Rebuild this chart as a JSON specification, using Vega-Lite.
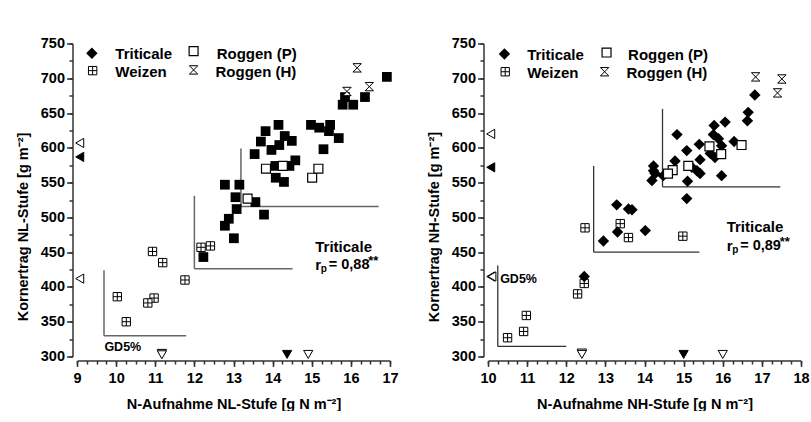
{
  "$schema": "https://vega.github.io/schema/vega-lite/v6.json",
  "padding": {"left": 15, "top": 35.5, "right": 0, "bottom": 0},
  "spacing": 27,
  "config": {
    "view": {"stroke": null},
    "font": "Liberation Sans",
    "axis": {"labelFont": "Liberation Sans", "labelFontWeight": "bold", "labelFontSize": 14.5, "labelColor": "black", "titleFont": "Liberation Sans", "titleFontWeight": "bold", "titleFontSize": 14.5, "titleColor": "black", "domainColor": "#333", "tickColor": "#333", "domainWidth": 1.5, "tickWidth": 1.5, "grid": false, "labelFlush": false, "labelOverlap": false}
  },
  "datasets": {
    "nl_tri": [{"x":16.92,"y":702},{"x":16.36,"y":673},{"x":15.85,"y":673},{"x":15.79,"y":662},{"x":16.06,"y":662},{"x":14.15,"y":633},{"x":13.82,"y":624},{"x":14.98,"y":633},{"x":15.19,"y":629},{"x":15.47,"y":633},{"x":15.44,"y":624},{"x":15.69,"y":614},{"x":14.31,"y":617},{"x":14.49,"y":610},{"x":13.70,"y":609},{"x":14.17,"y":604},{"x":13.97,"y":597},{"x":15.30,"y":598},{"x":13.54,"y":591},{"x":14.58,"y":582},{"x":14.07,"y":574},{"x":14.43,"y":574},{"x":14.08,"y":557},{"x":14.29,"y":551},{"x":12.78,"y":547},{"x":13.15,"y":547},{"x":13.05,"y":529},{"x":13.56,"y":522},{"x":13.08,"y":512},{"x":13.78,"y":504},{"x":12.88,"y":498},{"x":12.78,"y":488},{"x":13.01,"y":470},{"x":12.23,"y":443}],
    "nl_rp": [{"x":13.83,"y":570},{"x":14.26,"y":574},{"x":13.36,"y":527},{"x":15.01,"y":557},{"x":15.17,"y":570}],
    "nl_rh": [{"x":16.16,"y":715},{"x":15.90,"y":681},{"x":16.47,"y":688}],
    "nl_wei": [{"x":10.93,"y":451},{"x":11.19,"y":435},{"x":11.76,"y":410},{"x":10.03,"y":386},{"x":10.97,"y":384},{"x":10.81,"y":377},{"x":10.26,"y":350},{"x":12.17,"y":457},{"x":12.41,"y":459}],
    "nl_mittel": [{"gruppe":"Triticale","achse":"y","x":9.07,"y":587},{"gruppe":"Vergleich","achse":"y","x":9.07,"y":607},{"gruppe":"Vergleich","achse":"y","x":9.07,"y":412},{"gruppe":"Vergleich","achse":"x","x":11.17,"y":304.5},{"gruppe":"Vergleich","achse":"x","x":11.17,"y":302.5},{"gruppe":"Triticale","achse":"x","x":14.37,"y":303},{"gruppe":"Vergleich","achse":"x","x":14.91,"y":303}],
    "nl_gd": [{"x":9.69,"y":424,"x2":9.69,"y2":330},{"x":9.69,"y":330,"x2":11.79,"y2":330},{"x":12.0,"y":531,"x2":12.0,"y2":426},{"x":12.0,"y":426,"x2":14.51,"y2":426},{"x":13.19,"y":599,"x2":13.19,"y2":515.5},{"x":13.19,"y":515.5,"x2":16.71,"y2":515.5}],
    "nl_leg": [{"s":"Triticale","x":9.38,"y":736,"tx":9.98,"ty":735.6},{"s":"Weizen","x":9.40,"y":711,"tx":9.98,"ty":709.4},{"s":"Roggen (P)","x":11.98,"y":739,"tx":12.57,"ty":735.6},{"s":"Roggen (H)","x":11.98,"y":712,"tx":12.54,"ty":709.4}],
    "nl_ann": [{"x":15.09,"y":457,"r":431,"t":"Triticale","gd":"GD5%","gx":9.70,"gy":313,"wert":"= 0,88"}],
    "nh_tri": [{"x":16.82,"y":676},{"x":16.65,"y":651},{"x":16.63,"y":639},{"x":16.06,"y":637},{"x":15.78,"y":632},{"x":14.83,"y":619},{"x":15.76,"y":619},{"x":15.89,"y":613},{"x":16.29,"y":609},{"x":15.97,"y":603},{"x":15.40,"y":605},{"x":15.08,"y":596},{"x":15.68,"y":592},{"x":15.80,"y":586},{"x":15.42,"y":583},{"x":14.78,"y":581},{"x":15.21,"y":572},{"x":15.34,"y":567},{"x":15.42,"y":563},{"x":14.23,"y":574},{"x":14.23,"y":567},{"x":14.19,"y":553},{"x":14.48,"y":560},{"x":15.97,"y":560},{"x":15.10,"y":552},{"x":15.08,"y":527},{"x":14.27,"y":563},{"x":13.29,"y":518},{"x":13.59,"y":512},{"x":13.68,"y":511},{"x":14.02,"y":481},{"x":13.31,"y":479},{"x":12.95,"y":466},{"x":12.46,"y":415}],
    "nh_rp": [{"x":15.66,"y":602},{"x":16.48,"y":604},{"x":15.96,"y":591},{"x":15.12,"y":574},{"x":14.72,"y":568},{"x":14.60,"y":563}],
    "nh_rh": [{"x":16.84,"y":702},{"x":17.51,"y":699},{"x":17.40,"y":679}],
    "nh_wei": [{"x":12.48,"y":485},{"x":13.38,"y":491},{"x":13.59,"y":471},{"x":14.98,"y":473},{"x":12.46,"y":405},{"x":12.29,"y":390},{"x":10.98,"y":359},{"x":10.91,"y":336},{"x":10.50,"y":327}],
    "nh_mittel": [{"gruppe":"Triticale","achse":"y","x":10.07,"y":572},{"gruppe":"Vergleich","achse":"y","x":10.07,"y":620},{"gruppe":"Vergleich","achse":"y","x":10.07,"y":415},{"gruppe":"Vergleich","achse":"y","x":10.10,"y":415},{"gruppe":"Vergleich","achse":"x","x":12.40,"y":305},{"gruppe":"Vergleich","achse":"x","x":12.40,"y":303},{"gruppe":"Triticale","achse":"x","x":15.0,"y":303},{"gruppe":"Vergleich","achse":"x","x":16.0,"y":303}],
    "nh_gd": [{"x":10.25,"y":431,"x2":10.25,"y2":314.5},{"x":10.25,"y":314.5,"x2":12.0,"y2":314.5},{"x":12.70,"y":574,"x2":12.70,"y2":450},{"x":12.70,"y":450,"x2":15.40,"y2":450},{"x":14.46,"y":656,"x2":14.46,"y2":544},{"x":14.46,"y":544,"x2":17.47,"y2":544}],
    "nh_leg": [{"s":"Triticale","x":10.42,"y":735,"tx":11.0,"ty":733.5},{"s":"Weizen","x":10.44,"y":709.4,"tx":11.0,"ty":707},{"s":"Roggen (P)","x":13.03,"y":737,"tx":13.58,"ty":733.5},{"s":"Roggen (H)","x":12.98,"y":709.4,"tx":13.54,"ty":707}],
    "nh_ann": [{"x":16.10,"y":486,"r":459.5,"t":"Triticale","gd":"GD5%","gx":10.31,"gy":412,"wert":"= 0,89"}]
  },
  "hconcat": [
    {
      "width": 313, "height": 313,
      "resolve": {"axis": {"x": "independent", "y": "independent"}},
      "layer": [
        {
          "data": {"name": "nl_gd"},
          "mark": {"type": "rule", "color": "#666", "strokeWidth": 1.5},
          "encoding": {
            "x": {"field": "x", "type": "quantitative", "scale": {"domain": [9, 17], "nice": false, "zero": false}, "axis": {"orient": "bottom", "values": [9,10,11,12,13,14,15,16,17], "offset": 4, "tickSize": 6, "labelPadding": 5, "titlePadding": 12, "title": "N-Aufnahme NL-Stufe [g N m⁻²]"}},
            "y": {"field": "y", "type": "quantitative", "scale": {"domain": [300, 750], "nice": false, "zero": false}, "axis": {"orient": "left", "values": [300,350,400,450,500,550,600,650,700,750], "offset": 4.5, "tickSize": 6, "labelPadding": 2, "titlePadding": 10, "titleY": 183, "title": "Kornertrag NL-Stufe [g m⁻²]"}},
            "x2": {"field": "x2"},
            "y2": {"field": "y2"}
          }
        },
        {
          "data": {"values": [{}]},
          "mark": {"type": "point", "opacity": 0},
          "encoding": {
            "x": {"datum": 9, "type": "quantitative", "axis": {"orient": "bottom", "values": [9,9.25,9.5,9.75,10,10.25,10.5,10.75,11,11.25,11.5,11.75,12,12.25,12.5,12.75,13,13.25,13.5,13.75,14,14.25,14.5,14.75,15,15.25,15.5,15.75,16,16.25,16.5,16.75,17], "offset": 4, "tickSize": 3.5, "labels": false, "domain": false, "title": null}},
            "y": {"datum": 300, "type": "quantitative", "axis": {"orient": "left", "values": [300,325,350,375,400,425,450,475,500,525,550,575,600,625,650,675,700,725,750], "offset": 4.5, "tickSize": 3.5, "labels": false, "domain": false, "title": null}}
          }
        },
        {
          "data": {"name": "nl_wei"},
          "mark": {"type": "point", "shape": "M-1,-1H1V1H-1Z M0,-1V1 M-1,0H1", "fill": "white", "filled": true, "stroke": "black", "strokeWidth": 1, "size": 70, "opacity": 1},
          "encoding": {"x": {"field": "x", "type": "quantitative", "axis": null}, "y": {"field": "y", "type": "quantitative", "axis": null}}
        },
        {
          "data": {"name": "nl_tri"},
          "mark": {"type": "point", "shape": "square", "filled": true, "color": "black", "size": 95, "opacity": 1},
          "encoding": {"x": {"field": "x", "type": "quantitative", "axis": null}, "y": {"field": "y", "type": "quantitative", "axis": null}}
        },
        {
          "data": {"name": "nl_rp"},
          "mark": {"type": "point", "shape": "square", "fill": "white", "filled": true, "stroke": "black", "strokeWidth": 1.2, "size": 80, "opacity": 1},
          "encoding": {"x": {"field": "x", "type": "quantitative", "axis": null}, "y": {"field": "y", "type": "quantitative", "axis": null}}
        },
        {
          "data": {"name": "nl_rh"},
          "mark": {"type": "point", "shape": "M-1,-1H1L-1,1H1Z", "fill": "white", "filled": true, "stroke": "black", "strokeWidth": 1, "size": 70, "opacity": 1},
          "encoding": {"x": {"field": "x", "type": "quantitative", "axis": null}, "y": {"field": "y", "type": "quantitative", "axis": null}}
        },
        {
          "data": {"name": "nl_mittel"},
          "mark": {"type": "point", "filled": true, "stroke": "black", "strokeWidth": 1, "size": 85, "opacity": 1},
          "encoding": {
            "x": {"field": "x", "type": "quantitative", "axis": null},
            "y": {"field": "y", "type": "quantitative", "axis": null},
            "shape": {"field": "achse", "type": "nominal", "scale": {"domain": ["x", "y"], "range": ["triangle-down", "triangle-left"]}, "legend": null},
            "fill": {"field": "gruppe", "type": "nominal", "scale": {"domain": ["Triticale", "Vergleich"], "range": ["black", "white"]}, "legend": null}
          }
        },
        {
          "data": {"name": "nl_leg"},
          "transform": [{"filter": "datum.s === 'Triticale'"}],
          "mark": {"type": "point", "shape": "diamond", "filled": true, "color": "black", "size": 130, "opacity": 1},
          "encoding": {"x": {"field": "x", "type": "quantitative", "axis": null}, "y": {"field": "y", "type": "quantitative", "axis": null}}
        },
        {
          "data": {"name": "nl_leg"},
          "transform": [{"filter": "datum.s === 'Weizen'"}],
          "mark": {"type": "point", "shape": "M-1,-1H1V1H-1Z M0,-1V1 M-1,0H1", "fill": "white", "filled": true, "stroke": "black", "strokeWidth": 1, "size": 70, "opacity": 1},
          "encoding": {"x": {"field": "x", "type": "quantitative", "axis": null}, "y": {"field": "y", "type": "quantitative", "axis": null}}
        },
        {
          "data": {"name": "nl_leg"},
          "transform": [{"filter": "datum.s === 'Roggen (P)'"}],
          "mark": {"type": "point", "shape": "square", "fill": "white", "filled": true, "stroke": "black", "strokeWidth": 1.2, "size": 80, "opacity": 1},
          "encoding": {"x": {"field": "x", "type": "quantitative", "axis": null}, "y": {"field": "y", "type": "quantitative", "axis": null}}
        },
        {
          "data": {"name": "nl_leg"},
          "transform": [{"filter": "datum.s === 'Roggen (H)'"}],
          "mark": {"type": "point", "shape": "M-1,-1H1L-1,1H1Z", "fill": "white", "filled": true, "stroke": "black", "strokeWidth": 1, "size": 70, "opacity": 1},
          "encoding": {"x": {"field": "x", "type": "quantitative", "axis": null}, "y": {"field": "y", "type": "quantitative", "axis": null}}
        },
        {
          "data": {"name": "nl_leg"},
          "mark": {"type": "text", "align": "left", "baseline": "middle", "font": "Liberation Sans", "fontWeight": "bold", "fontSize": 15, "color": "black"},
          "encoding": {"x": {"field": "tx", "type": "quantitative", "axis": null}, "y": {"field": "ty", "type": "quantitative", "axis": null}, "text": {"field": "s"}}
        },
        {
          "data": {"name": "nl_ann"},
          "mark": {"type": "text", "align": "left", "baseline": "middle", "font": "Liberation Sans", "fontWeight": "bold", "fontSize": 15, "color": "black"},
          "encoding": {"x": {"field": "x", "type": "quantitative", "axis": null}, "y": {"field": "y", "type": "quantitative", "axis": null}, "text": {"field": "t"}}
        },
        {
          "data": {"name": "nl_ann"},
          "mark": {"type": "text", "align": "left", "baseline": "middle", "font": "Liberation Sans", "fontWeight": "bold", "fontSize": 15, "color": "black", "text": "r"},
          "encoding": {"x": {"field": "x", "type": "quantitative", "axis": null}, "y": {"field": "r", "type": "quantitative", "axis": null}}
        },
        {
          "data": {"name": "nl_ann"},
          "mark": {"type": "text", "align": "left", "baseline": "middle", "font": "Liberation Sans", "fontWeight": "bold", "fontSize": 10, "color": "black", "text": "p", "dx": 5.5, "dy": 4},
          "encoding": {"x": {"field": "x", "type": "quantitative", "axis": null}, "y": {"field": "r", "type": "quantitative", "axis": null}}
        },
        {
          "data": {"name": "nl_ann"},
          "mark": {"type": "text", "align": "left", "baseline": "middle", "font": "Liberation Sans", "fontWeight": "bold", "fontSize": 14.5, "color": "black", "dx": 13.5},
          "encoding": {"x": {"field": "x", "type": "quantitative", "axis": null}, "y": {"field": "r", "type": "quantitative", "axis": null}, "text": {"field": "wert"}}
        },
        {
          "data": {"name": "nl_ann"},
          "mark": {"type": "text", "align": "left", "baseline": "middle", "font": "Liberation Sans", "fontWeight": "bold", "fontSize": 13, "color": "black", "text": "**", "dx": 53, "dy": -4},
          "encoding": {"x": {"field": "x", "type": "quantitative", "axis": null}, "y": {"field": "r", "type": "quantitative", "axis": null}}
        },
        {
          "data": {"name": "nl_ann"},
          "mark": {"type": "text", "align": "left", "baseline": "middle", "font": "Liberation Sans", "fontWeight": "bold", "fontSize": 12.5, "color": "black"},
          "encoding": {"x": {"field": "gx", "type": "quantitative", "axis": null}, "y": {"field": "gy", "type": "quantitative", "axis": null}, "text": {"field": "gd"}}
        }
      ]
    },
    {
      "width": 313, "height": 313,
      "resolve": {"axis": {"x": "independent", "y": "independent"}},
      "layer": [
        {
          "data": {"name": "nh_gd"},
          "mark": {"type": "rule", "color": "#333", "strokeWidth": 1.3},
          "encoding": {
            "x": {"field": "x", "type": "quantitative", "scale": {"domain": [10, 18], "nice": false, "zero": false}, "axis": {"orient": "bottom", "values": [10,11,12,13,14,15,16,17,18], "offset": 4, "tickSize": 6, "labelPadding": 5, "titlePadding": 12, "title": "N-Aufnahme NH-Stufe [g N m⁻²]"}},
            "y": {"field": "y", "type": "quantitative", "scale": {"domain": [300, 750], "nice": false, "zero": false}, "axis": {"orient": "left", "values": [300,350,400,450,500,550,600,650,700,750], "offset": 4.5, "tickSize": 6, "labelPadding": 2, "titlePadding": 10, "titleY": 183, "title": "Kornertrag NH-Stufe [g m⁻²]"}},
            "x2": {"field": "x2"},
            "y2": {"field": "y2"}
          }
        },
        {
          "data": {"values": [{}]},
          "mark": {"type": "point", "opacity": 0},
          "encoding": {
            "x": {"datum": 10, "type": "quantitative", "axis": {"orient": "bottom", "values": [10,10.25,10.5,10.75,11,11.25,11.5,11.75,12,12.25,12.5,12.75,13,13.25,13.5,13.75,14,14.25,14.5,14.75,15,15.25,15.5,15.75,16,16.25,16.5,16.75,17,17.25,17.5,17.75,18], "offset": 4, "tickSize": 3.5, "labels": false, "domain": false, "title": null}},
            "y": {"datum": 300, "type": "quantitative", "axis": {"orient": "left", "values": [300,325,350,375,400,425,450,475,500,525,550,575,600,625,650,675,700,725,750], "offset": 4.5, "tickSize": 3.5, "labels": false, "domain": false, "title": null}}
          }
        },
        {
          "data": {"name": "nh_wei"},
          "mark": {"type": "point", "shape": "M-1,-1H1V1H-1Z M0,-1V1 M-1,0H1", "fill": "white", "filled": true, "stroke": "black", "strokeWidth": 1, "size": 70, "opacity": 1},
          "encoding": {"x": {"field": "x", "type": "quantitative", "axis": null}, "y": {"field": "y", "type": "quantitative", "axis": null}}
        },
        {
          "data": {"name": "nh_tri"},
          "mark": {"type": "point", "shape": "diamond", "filled": true, "color": "black", "size": 130, "opacity": 1},
          "encoding": {"x": {"field": "x", "type": "quantitative", "axis": null}, "y": {"field": "y", "type": "quantitative", "axis": null}}
        },
        {
          "data": {"name": "nh_rp"},
          "mark": {"type": "point", "shape": "square", "fill": "white", "filled": true, "stroke": "black", "strokeWidth": 1.2, "size": 80, "opacity": 1},
          "encoding": {"x": {"field": "x", "type": "quantitative", "axis": null}, "y": {"field": "y", "type": "quantitative", "axis": null}}
        },
        {
          "data": {"name": "nh_rh"},
          "mark": {"type": "point", "shape": "M-1,-1H1L-1,1H1Z", "fill": "white", "filled": true, "stroke": "black", "strokeWidth": 1, "size": 70, "opacity": 1},
          "encoding": {"x": {"field": "x", "type": "quantitative", "axis": null}, "y": {"field": "y", "type": "quantitative", "axis": null}}
        },
        {
          "data": {"name": "nh_mittel"},
          "mark": {"type": "point", "filled": true, "stroke": "black", "strokeWidth": 1, "size": 85, "opacity": 1},
          "encoding": {
            "x": {"field": "x", "type": "quantitative", "axis": null},
            "y": {"field": "y", "type": "quantitative", "axis": null},
            "shape": {"field": "achse", "type": "nominal", "scale": {"domain": ["x", "y"], "range": ["triangle-down", "triangle-left"]}, "legend": null},
            "fill": {"field": "gruppe", "type": "nominal", "scale": {"domain": ["Triticale", "Vergleich"], "range": ["black", "white"]}, "legend": null}
          }
        },
        {
          "data": {"name": "nh_leg"},
          "transform": [{"filter": "datum.s === 'Triticale'"}],
          "mark": {"type": "point", "shape": "diamond", "filled": true, "color": "black", "size": 130, "opacity": 1},
          "encoding": {"x": {"field": "x", "type": "quantitative", "axis": null}, "y": {"field": "y", "type": "quantitative", "axis": null}}
        },
        {
          "data": {"name": "nh_leg"},
          "transform": [{"filter": "datum.s === 'Weizen'"}],
          "mark": {"type": "point", "shape": "M-1,-1H1V1H-1Z M0,-1V1 M-1,0H1", "fill": "white", "filled": true, "stroke": "black", "strokeWidth": 1, "size": 70, "opacity": 1},
          "encoding": {"x": {"field": "x", "type": "quantitative", "axis": null}, "y": {"field": "y", "type": "quantitative", "axis": null}}
        },
        {
          "data": {"name": "nh_leg"},
          "transform": [{"filter": "datum.s === 'Roggen (P)'"}],
          "mark": {"type": "point", "shape": "square", "fill": "white", "filled": true, "stroke": "black", "strokeWidth": 1.2, "size": 80, "opacity": 1},
          "encoding": {"x": {"field": "x", "type": "quantitative", "axis": null}, "y": {"field": "y", "type": "quantitative", "axis": null}}
        },
        {
          "data": {"name": "nh_leg"},
          "transform": [{"filter": "datum.s === 'Roggen (H)'"}],
          "mark": {"type": "point", "shape": "M-1,-1H1L-1,1H1Z", "fill": "white", "filled": true, "stroke": "black", "strokeWidth": 1, "size": 70, "opacity": 1},
          "encoding": {"x": {"field": "x", "type": "quantitative", "axis": null}, "y": {"field": "y", "type": "quantitative", "axis": null}}
        },
        {
          "data": {"name": "nh_leg"},
          "mark": {"type": "text", "align": "left", "baseline": "middle", "font": "Liberation Sans", "fontWeight": "bold", "fontSize": 15, "color": "black"},
          "encoding": {"x": {"field": "tx", "type": "quantitative", "axis": null}, "y": {"field": "ty", "type": "quantitative", "axis": null}, "text": {"field": "s"}}
        },
        {
          "data": {"name": "nh_ann"},
          "mark": {"type": "text", "align": "left", "baseline": "middle", "font": "Liberation Sans", "fontWeight": "bold", "fontSize": 15, "color": "black"},
          "encoding": {"x": {"field": "x", "type": "quantitative", "axis": null}, "y": {"field": "y", "type": "quantitative", "axis": null}, "text": {"field": "t"}}
        },
        {
          "data": {"name": "nh_ann"},
          "mark": {"type": "text", "align": "left", "baseline": "middle", "font": "Liberation Sans", "fontWeight": "bold", "fontSize": 15, "color": "black", "text": "r"},
          "encoding": {"x": {"field": "x", "type": "quantitative", "axis": null}, "y": {"field": "r", "type": "quantitative", "axis": null}}
        },
        {
          "data": {"name": "nh_ann"},
          "mark": {"type": "text", "align": "left", "baseline": "middle", "font": "Liberation Sans", "fontWeight": "bold", "fontSize": 10, "color": "black", "text": "p", "dx": 5.5, "dy": 4},
          "encoding": {"x": {"field": "x", "type": "quantitative", "axis": null}, "y": {"field": "r", "type": "quantitative", "axis": null}}
        },
        {
          "data": {"name": "nh_ann"},
          "mark": {"type": "text", "align": "left", "baseline": "middle", "font": "Liberation Sans", "fontWeight": "bold", "fontSize": 14.5, "color": "black", "dx": 13.5},
          "encoding": {"x": {"field": "x", "type": "quantitative", "axis": null}, "y": {"field": "r", "type": "quantitative", "axis": null}, "text": {"field": "wert"}}
        },
        {
          "data": {"name": "nh_ann"},
          "mark": {"type": "text", "align": "left", "baseline": "middle", "font": "Liberation Sans", "fontWeight": "bold", "fontSize": 13, "color": "black", "text": "**", "dx": 53, "dy": -4},
          "encoding": {"x": {"field": "x", "type": "quantitative", "axis": null}, "y": {"field": "r", "type": "quantitative", "axis": null}}
        },
        {
          "data": {"name": "nh_ann"},
          "mark": {"type": "text", "align": "left", "baseline": "middle", "font": "Liberation Sans", "fontWeight": "bold", "fontSize": 12.5, "color": "black"},
          "encoding": {"x": {"field": "gx", "type": "quantitative", "axis": null}, "y": {"field": "gy", "type": "quantitative", "axis": null}, "text": {"field": "gd"}}
        }
      ]
    }
  ]
}
